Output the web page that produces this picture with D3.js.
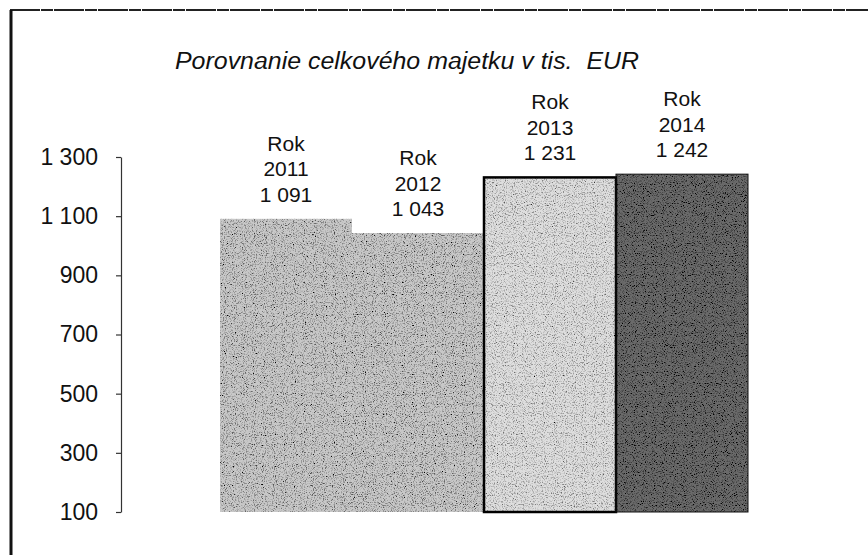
<!DOCTYPE html>
<html>
<head>
<meta charset="utf-8">
<script src="https://cdn.jsdelivr.net/npm/d3@7"></script>
<style>
  html, body { margin: 0; padding: 0; background: #fff; }
  svg { display: block; }
  text { font-family: "Liberation Sans", Arial, sans-serif; fill: #111; }
</style>
</head>
<body>
<svg id="chart" width="868" height="555"></svg>
<script>
// ---- data ----
const categories = ["2011", "2012", "2013", "2014"];
const values = [1091, 1043, 1231, 1242];
const labelPrefix = "Rok";
const yTicks = [100, 300, 500, 700, 900, 1100, 1300];
const title = "Porovnanie celkového majetku v tis.  EUR";

// ---- styles ----
const barFills = ["#c8c8c8", "#c8c8c8", "#dedede", "#6a6a6a"];
const dotStrength = [1.0, 1.0, 0.85, 1.3];
const barStrokes = ["none", "none", "#000", "#111"];
const barStrokeW = [0, 0, 2.5, 1];

const svg = d3.select("#chart");
const W = 868, H = 555;

const locale = d3.formatLocale({ decimal: ",", thousands: " ", grouping: [3], currency: ["", ""] });
const fmt = locale.format(",d");

// frame (scanned page border: top and left)
svg.append("line").attr("x1", 10).attr("y1", 10).attr("x2", W).attr("y2", 10)
  .attr("stroke", "#222").attr("stroke-width", 2).attr("stroke-dasharray", "30 1 12 1");
svg.append("line").attr("x1", 11).attr("y1", 10).attr("x2", 11).attr("y2", H)
  .attr("stroke", "#111").attr("stroke-width", 3);

// stipple filters
const defs = svg.append("defs");
dotStrength.forEach((s, i) => {
  const f = defs.append("filter").attr("id", "stip" + i)
    .attr("x", 0).attr("y", 0).attr("width", 1).attr("height", 1);
  f.append("feTurbulence").attr("type", "fractalNoise").attr("baseFrequency", 0.9)
    .attr("numOctaves", 2).attr("seed", 4 + i).attr("result", "noise");
  f.append("feColorMatrix").attr("in", "noise").attr("type", "matrix")
    .attr("values", `0 0 0 0 0  0 0 0 0 0  0 0 0 0 0  ${-3 * s} 0 0 0 ${1.55 * s}`)
    .attr("result", "dots");
  f.append("feComposite").attr("in", "dots").attr("in2", "SourceGraphic")
    .attr("operator", "in").attr("result", "clipped");
  const m = f.append("feMerge");
  m.append("feMergeNode").attr("in", "SourceGraphic");
  m.append("feMergeNode").attr("in", "clipped");
});

// scales
const x = d3.scaleBand().domain(categories).range([220, 748]).paddingInner(0).paddingOuter(0);
const y = d3.scaleLinear().domain([100, 1300]).range([512, 157]);

// axis
const axis = d3.axisLeft(y).tickValues(yTicks).tickFormat(fmt)
  .tickSize(5).tickSizeOuter(0).tickPadding(18);
const gA = svg.append("g").attr("transform", "translate(121,0)").call(axis);
gA.select(".domain").attr("stroke", "#333").attr("stroke-width", 1.2);
gA.selectAll(".tick line").attr("stroke", "#333").attr("stroke-width", 1.2);
gA.selectAll(".tick text").attr("font-size", 23).attr("fill", "#111")
  .style("font-family", '"Liberation Sans", Arial, sans-serif');

// bars
const data = categories.map((c, i) => ({ c, v: values[i], i }));
svg.append("g").selectAll("rect").data(data).join("rect")
  .attr("x", d => x(d.c))
  .attr("y", d => y(d.v))
  .attr("width", x.bandwidth())
  .attr("height", d => y(100) - y(d.v))
  .attr("fill", d => barFills[d.i])
  .attr("filter", d => `url(#stip${d.i})`);
svg.append("g").selectAll("rect").data(data.filter(d => barStrokeW[d.i] > 0)).join("rect")
  .attr("x", d => x(d.c))
  .attr("y", d => y(d.v))
  .attr("width", x.bandwidth())
  .attr("height", d => y(100) - y(d.v))
  .attr("fill", "none")
  .attr("stroke", d => barStrokes[d.i])
  .attr("stroke-width", d => barStrokeW[d.i]);

// value labels
const lg = svg.append("g").attr("font-size", 21).attr("text-anchor", "middle");
data.forEach(d => {
  const cx = x(d.c) + x.bandwidth() / 2;
  const base = y(d.v) - 17;
  const lines = [labelPrefix, d.c, fmt(d.v)];
  lines.forEach((t, k) => {
    lg.append("text").attr("x", cx).attr("y", base - (2 - k) * 25.5).text(t);
  });
});

// title
svg.append("text").attr("x", 175).attr("y", 69)
  .attr("font-size", 23.5).attr("font-style", "italic")
  .attr("textLength", 464).attr("lengthAdjust", "spacingAndGlyphs")
  .style("white-space", "pre").attr("xml:space", "preserve")
  .text(title);
</script>
</body>
</html>
